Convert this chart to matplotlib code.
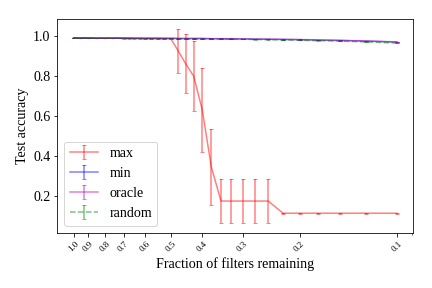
import matplotlib
matplotlib.use("Agg")
import matplotlib.pyplot as plt
from matplotlib.ticker import NullFormatter, FixedLocator

plt.rcParams['font.family'] = ['Liberation Serif', 'DejaVu Serif']
plt.rcParams['mathtext.fontset'] = 'stix'

fractions = [1.0, 0.975, 0.95, 0.925, 0.9, 0.875, 0.85, 0.825, 0.8, 0.775,
             0.75, 0.725, 0.7, 0.675, 0.65, 0.625, 0.6, 0.575, 0.55, 0.525,
             0.5, 0.475, 0.45, 0.425, 0.4, 0.375, 0.35, 0.325, 0.3, 0.275,
             0.25, 0.225, 0.2, 0.175, 0.15, 0.125, 0.1]

max_acc = [0.992, 0.992, 0.992, 0.992, 0.992, 0.991, 0.991, 0.991, 0.991, 0.991,
           0.991, 0.991, 0.990, 0.990, 0.990, 0.990, 0.989, 0.989, 0.989, 0.988,
           0.987, 0.928, 0.862, 0.800, 0.632, 0.346, 0.174, 0.174, 0.174, 0.174,
           0.174, 0.113, 0.113, 0.113, 0.113, 0.113, 0.113]
max_err = [0.001, 0.001, 0.001, 0.001, 0.001, 0.001, 0.001, 0.001, 0.001, 0.001,
           0.001, 0.001, 0.001, 0.001, 0.001, 0.001, 0.001, 0.001, 0.002, 0.002,
           0.003, 0.110, 0.148, 0.175, 0.210, 0.190, 0.110, 0.110, 0.110, 0.110,
           0.110, 0.002, 0.002, 0.002, 0.002, 0.002, 0.002]

min_acc = [0.992, 0.992, 0.992, 0.992, 0.992, 0.992, 0.991, 0.991, 0.991, 0.991,
           0.991, 0.991, 0.991, 0.991, 0.990, 0.990, 0.990, 0.990, 0.990, 0.990,
           0.990, 0.989, 0.989, 0.989, 0.989, 0.988, 0.988, 0.987, 0.987, 0.986,
           0.985, 0.984, 0.983, 0.981, 0.979, 0.976, 0.971]
min_err = [0.001] * 37

oracle_acc = [0.992, 0.992, 0.992, 0.992, 0.992, 0.992, 0.991, 0.991, 0.991, 0.991,
              0.991, 0.991, 0.991, 0.991, 0.990, 0.990, 0.990, 0.990, 0.990, 0.990,
              0.990, 0.989, 0.989, 0.989, 0.989, 0.988, 0.988, 0.988, 0.987, 0.986,
              0.986, 0.985, 0.984, 0.982, 0.980, 0.977, 0.972]
oracle_err = [0.001] * 37

random_acc = [0.991, 0.991, 0.991, 0.991, 0.991, 0.990, 0.990, 0.990, 0.990, 0.990,
              0.990, 0.990, 0.989, 0.989, 0.989, 0.989, 0.989, 0.989, 0.988, 0.988,
              0.988, 0.988, 0.987, 0.987, 0.987, 0.986, 0.986, 0.985, 0.985, 0.984,
              0.983, 0.982, 0.980, 0.978, 0.976, 0.972, 0.966]
random_err = [0.001] * 37

tick_values = [1.0, 0.9, 0.8, 0.7, 0.6, 0.5, 0.4, 0.3, 0.2, 0.1]
tick_labels = ['1.0', '0.9', '0.8', '0.7', '0.6', '0.5', '0.4', '0.3', '0.2', '0.1']

fig = plt.figure(figsize=(6, 4), dpi=72)
ax = fig.add_subplot(111)
fig.subplots_adjust(left=0.133, right=0.956, bottom=0.192, top=0.934)

ax.errorbar(fractions, max_acc, yerr=max_err, color='r', alpha=0.5, capsize=2, label='max')
ax.errorbar(fractions, min_acc, yerr=min_err, color='b', alpha=0.5, capsize=2, label='min')
ax.errorbar(fractions, oracle_acc, yerr=oracle_err, color='m', alpha=0.5, capsize=2, label='oracle')
ax.errorbar(fractions, random_acc, yerr=random_err, color='g', alpha=0.5, capsize=2,
            linestyle='--', label='random')

ax.set_xscale('log')
ax.invert_xaxis()
ax.xaxis.set_major_locator(FixedLocator(tick_values))
ax.set_xticklabels(tick_labels, rotation=45, fontsize=9)
ax.xaxis.set_minor_formatter(NullFormatter())
ax.tick_params(axis='y', labelsize=14)

ax.set_xlabel('Fraction of filters remaining', fontsize=14)
ax.set_ylabel('Test accuracy', fontsize=14)
ax.legend(loc='lower left', fontsize=14)

fig.savefig('out.png', dpi=72)
